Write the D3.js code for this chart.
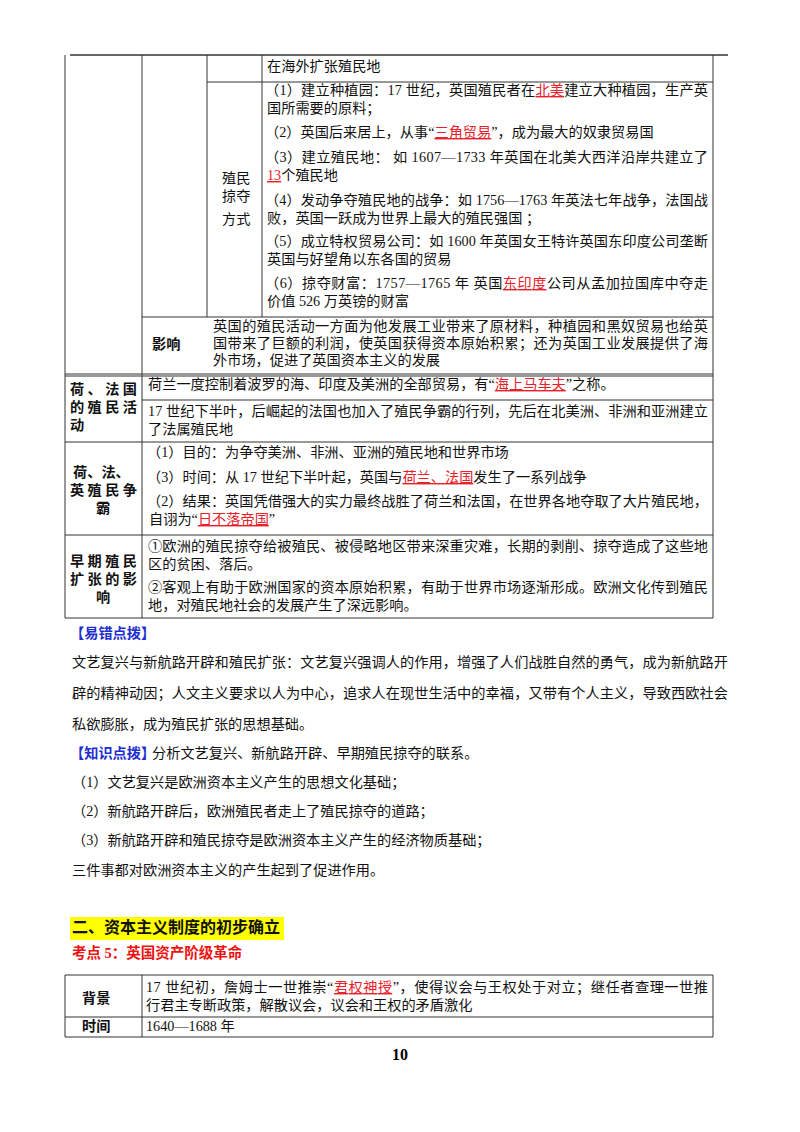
<!DOCTYPE html><html><head><meta charset="utf-8"><script src="https://cdn.jsdelivr.net/npm/d3@7"></script>
<style>body{margin:0;background:#fff}text{font-family:"Liberation Serif","Noto Sans CJK SC",serif}</style></head><body>
<svg id="s" width="800" height="1132"></svg>
<script>
// text lines: [x, y, text, bold, fill-to-width(right edge) ]; [..] marks red underlined segments
const tableLines = [
 [267,68,"在海外扩张殖民地"],
 [265,92,"（1）建立种植园：17 世纪，英国殖民者在[北美]建立大种植园，生产英",0,708],
 [267,110,"国所需要的原料；"],
 [265,134,"（2）英国后来居上，从事“[三角贸易]”，成为最大的奴隶贸易国"],
 [265,159,"（3）建立殖民地：  如 1607—1733 年英国在北美大西洋沿岸共建立了",0,708],
 [267,177,"[13]个殖民地"],
 [265,202,"（4）发动争夺殖民地的战争：如 1756—1763 年英法七年战争，法国战",0,708],
 [267,220,"败，英国一跃成为世界上最大的殖民强国  ；"],
 [265,243,"（5）成立特权贸易公司：如 1600 年英国女王特许英国东印度公司垄断",0,708],
 [267,261,"英国与好望角以东各国的贸易"],
 [265,285,"（6）掠夺财富：1757—1765 年  英国[东印度]公司从孟加拉国库中夺走",0,708],
 [267,303,"价值 526 万英镑的财富"],
 [222,180,"殖民"],[222,198,"掠夺"],[222,221,"方式"],
 [152,346,"影响",1],
 [213,328,"英国的殖民活动一方面为他发展工业带来了原材料，种植园和黑奴贸易也给英",0,708],
 [213,345,"国带来了巨额的利润，使英国获得资本原始积累；还为英国工业发展提供了海",0,708],
 [213,362,"外市场，促进了英国资本主义的发展"],
 [70,391,"荷、法国",1,137],[70,409,"的殖民活",1,137],[70,427,"动",1],
 [148,386,"荷兰一度控制着波罗的海、印度及美洲的全部贸易，有“[海上马车夫]”之称。"],
 [148,413,"17 世纪下半叶，后崛起的法国也加入了殖民争霸的行列，先后在北美洲、非洲和亚洲建立",0,708],
 [148,431,"了法属殖民地"],
 [73,474,"荷、法、",1],[70,492,"英殖民争",1,137],[96,510,"霸",1],
 [147,454,"（1）目的：为争夺美洲、非洲、亚洲的殖民地和世界市场"],
 [147,479,"（3）时间：从 17 世纪下半叶起，英国与[荷兰、法国]发生了一系列战争"],
 [147,503,"（2）结果：英国凭借强大的实力最终战胜了荷兰和法国，在世界各地夺取了大片殖民地，",0,708],
 [149,521,"自诩为“[日不落帝国]”"],
 [70,563,"早期殖民",1,137],[70,581,"扩张的影",1,137],[96,599,"响",1],
 [148,548,"①欧洲的殖民掠夺给被殖民、被侵略地区带来深重灾难，长期的剥削、掠夺造成了这些地",0,708],
 [148,566,"区的贫困、落后。"],
 [148,589,"②客观上有助于欧洲国家的资本原始积累，有助于世界市场逐渐形成。欧洲文化传到殖民",0,708],
 [148,607,"地，对殖民地社会的发展产生了深远影响。"],
];
const bodyLines = [
 [72,664,"文艺复兴与新航路开辟和殖民扩张：文艺复兴强调人的作用，增强了人们战胜自然的勇气，成为新航路开",0,728],
 [72,695,"辟的精神动因；人文主义要求以人为中心，追求人在现世生活中的幸福，又带有个人主义，导致西欧社会",0,728],
 [72,726,"私欲膨胀，成为殖民扩张的思想基础。"],
 [152,755,"分析文艺复兴、新航路开辟、早期殖民掠夺的联系。"],
 [72,784,"（1）文艺复兴是欧洲资本主义产生的思想文化基础；"],
 [72,813,"（2）新航路开辟后，欧洲殖民者走上了殖民掠夺的道路；"],
 [72,842,"（3）新航路开辟和殖民掠夺是欧洲资本主义产生的经济物质基础；"],
 [72,872,"三件事都对欧洲资本主义的产生起到了促进作用。"],
 [82,1000,"背景",1],
 [146,989,"17 世纪初，詹姆士一世推崇“[君权神授]”，使得议会与王权处于对立；继任者查理一世推",0,708],
 [146,1007,"行君主专断政策，解散议会，议会和王权的矛盾激化"],
 [82,1028,"时间",1],
 [146,1028,"1640—1688 年"],
];
// grid: [x1,y1,x2,y2]
const hLines=[[70,55,728,55],[207,82,713,82],[142,317,713,317],[65,374,713,374],[65,376,713,376],[142,400,713,400],[65,442,713,442],[65,535,713,535],[65,618,713,618],
 [65,975,713,975],[65,1017,713,1017],[65,1037,713,1037]];
const vLines=[[65,55,65,618],[142,55,142,618],[207,55,207,317],[262,55,262,317],[713,55,713,618],[65,975,65,1037],[142,975,142,1037],[713,975,713,1037]];

const svg=d3.select("#s");
svg.selectAll("line.g").data(hLines.concat(vLines)).join("line").attr("x1",d=>d[0]).attr("y1",d=>d[1]).attr("x2",d=>d[2]).attr("y2",d=>d[3]).attr("stroke","#333").attr("stroke-width",d=>d[1]===55&&d[3]===55?1.5:1);
function draw(lines){
 lines.forEach(l=>{
  const t=svg.append("text").attr("x",l[0]).attr("y",l[1]).attr("dominant-baseline","middle").attr("font-size",14.2).attr("fill","#111").attr("font-weight",l[3]?"bold":null);
  if(l[4]) t.attr("textLength",l[4]-l[0]).attr("lengthAdjust","spacing");
  l[2].split(/(\[[^\]]*\])/).filter(s=>s).forEach(s=>{
   if(s[0]==="[") t.append("tspan").text(s.slice(1,-1)).attr("fill","#e8202a").attr("text-decoration","underline");
   else t.append("tspan").text(s);
  });
 });
}
draw(tableLines);draw(bodyLines);
const lab=(x,y,txt,c,size)=>svg.append("text").attr("x",x).attr("y",y).attr("dominant-baseline","middle").attr("font-size",size||14.2).attr("font-weight","bold").attr("fill",c).text(txt);
lab(70,635,"【易错点拨】","#1f2ecf");
lab(70,755,"【知识点拨】","#1f2ecf");
svg.append("rect").attr("x",70).attr("y",917).attr("width",214).attr("height",23).attr("fill","#ffff00");
lab(72,929,"二、资本主义制度的初步确立","#111",16);
lab(72,955,"考点 5：英国资产阶级革命","#ee1111",14.5);
svg.append("text").attr("x",400).attr("y",1056).attr("text-anchor","middle").attr("dominant-baseline","middle").attr("font-size",16).attr("font-weight","bold").text("10");
</script></body></html>
